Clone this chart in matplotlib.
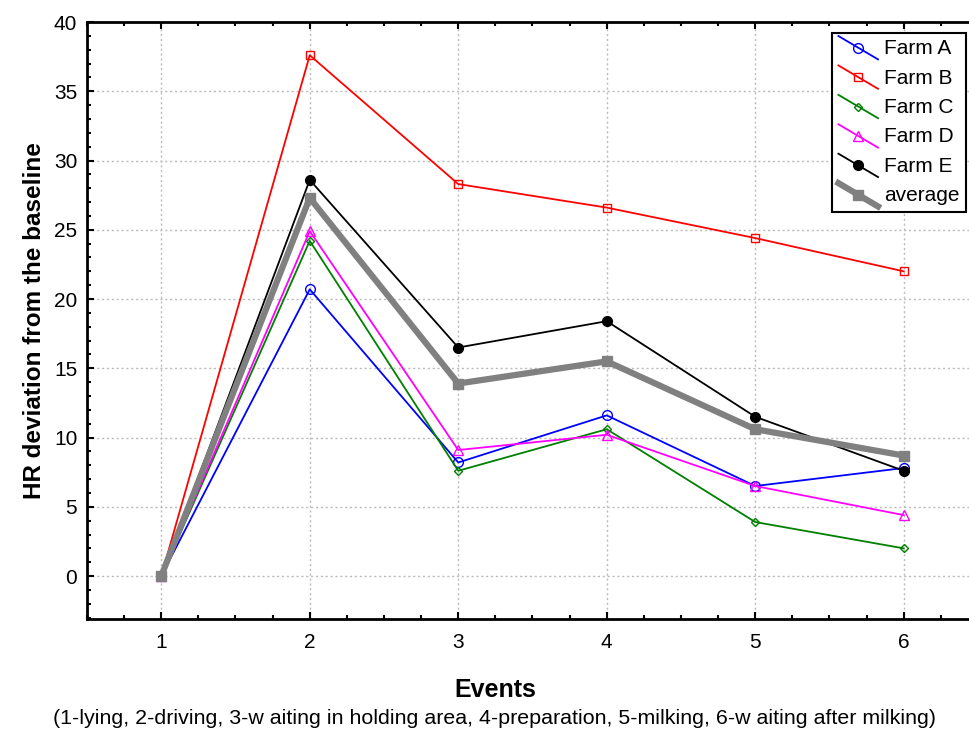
import matplotlib
matplotlib.use("Agg")
import matplotlib.pyplot as plt
import numpy as np
from matplotlib.ticker import MultipleLocator
from matplotlib.legend_handler import HandlerLine2D

plt.rcParams['font.family'] = ['Liberation Sans', 'DejaVu Sans']

events = [1, 2, 3, 4, 5, 6]
farm_a = [0, 20.7, 8.2, 11.6, 6.5, 7.8]
farm_b = [0, 37.6, 28.3, 26.6, 24.4, 22.0]
farm_c = [0, 24.2, 7.6, 10.6, 3.9, 2.0]
farm_d = [0, 24.9, 9.1, 10.2, 6.5, 4.4]
farm_e = [0, 28.6, 16.5, 18.4, 11.5, 7.6]
average = [0, 27.3, 13.9, 15.5, 10.6, 8.7]


# slanted legend lines like the original software draws them
class SlantHandler(HandlerLine2D):
    def create_artists(self, legend, orig_handle, xdescent, ydescent,
                       width, height, fontsize, trans):
        arts = super().create_artists(legend, orig_handle, xdescent, ydescent,
                                      width, height, fontsize, trans)
        top = height - ydescent + 0.25 * height
        bot = -ydescent - 0.35 * height
        for a in arts:
            x = a.get_xdata()
            if len(x) == 3:
                a.set_ydata(np.linspace(top, bot, 3))
        return arts


fig = plt.figure(figsize=(9.7, 7.33), dpi=100)
W, H = 970, 733
ax = fig.add_axes([87 / W, 1 - 619 / H, (978 - 87) / W, (619 - 22) / H])

ax.plot(events, farm_a, color='blue', lw=1.3, marker='o', ms=7, mfc='none', label='Farm A')
ax.plot(events, farm_b, color='red', lw=1.3, marker='s', ms=6, mfc='none', label='Farm B')
ax.plot(events, farm_c, color='green', lw=1.3, marker='D', ms=4.5, mfc='none', label='Farm C')
ax.plot(events, farm_d, color='magenta', lw=1.3, marker='^', ms=7, mfc='none', label='Farm D')
ax.plot(events, farm_e, color='black', lw=1.3, marker='o', ms=7, label='Farm E')
ax.plot(events, average, color='gray', lw=4.5, marker='s', ms=7, label='average')

ax.set_xlim(0.5, 6.5)
ax.set_ylim(-3.1, 40)
ax.xaxis.set_major_locator(MultipleLocator(1))
ax.xaxis.set_minor_locator(MultipleLocator(0.25))
ax.yaxis.set_major_locator(MultipleLocator(5))
ax.yaxis.set_minor_locator(MultipleLocator(1))
ax.tick_params(which='both', direction='in', top=True, right=False, labelsize=15, width=1.5)
ax.tick_params(which='major', length=5, pad=7)
ax.tick_params(which='minor', length=3)
ax.tick_params(axis='x', pad=10)
for s in ax.spines.values():
    s.set_linewidth(2)
ax.grid(True, which='major', color='#bbbbbb', linestyle=(0, (1.5, 2)), lw=1)

ax.set_ylabel('HR deviation from the baseline', fontsize=17.5, fontweight='bold', labelpad=6)
fig.text(495 / W, 1 - 690 / H, 'Events', fontsize=18, fontweight='bold', ha='center', va='center')
fig.text(495 / W, 1 - 719 / H,
         '(1-lying, 2-driving, 3-w aiting in holding area, 4-preparation, 5-milking, 6-w aiting after milking)',
         fontsize=15.4, ha='center', va='center')

leg = ax.legend(loc='upper right', bbox_to_anchor=((966 - 87) / (978 - 87), (619 - 33) / (619 - 22)),
                fontsize=15, fancybox=False, edgecolor='black', framealpha=1, numpoints=1,
                handlelength=1.9, handletextpad=0.3, borderpad=0.3, labelspacing=0.5,
                borderaxespad=0, handler_map={plt.Line2D: SlantHandler()})
leg.get_frame().set_linewidth(1.5)

fig.savefig('out.png', dpi=100)
